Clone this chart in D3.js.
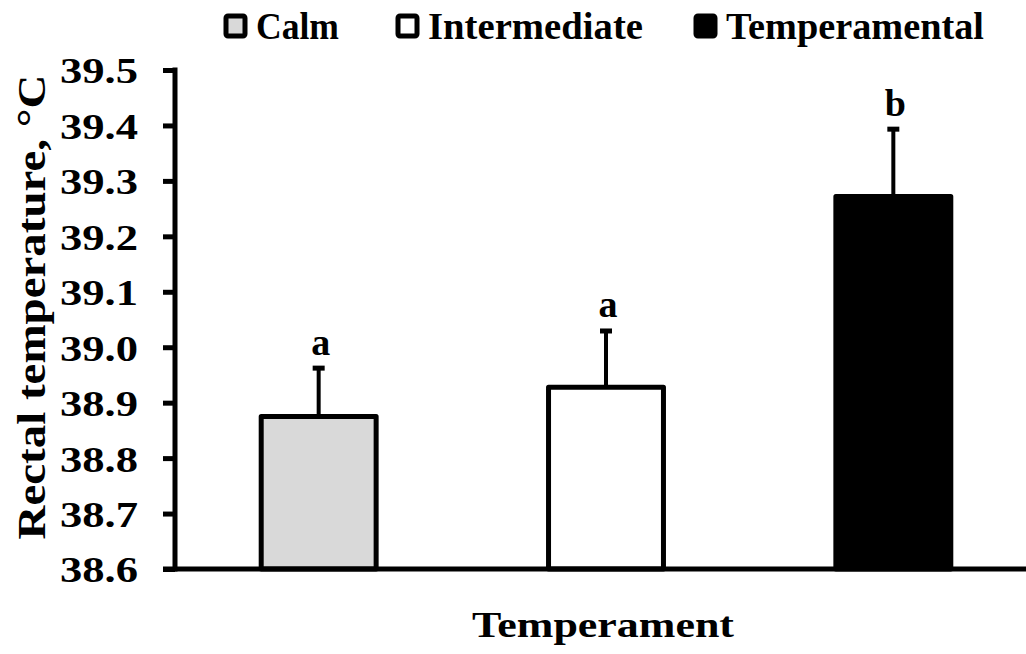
<!DOCTYPE html>
<html>
<head>
<meta charset="utf-8">
<script src="https://cdn.jsdelivr.net/npm/d3@7"></script>
<style>
  body { margin: 0; background: #fff; }
  text { font-family: "Liberation Serif", "Times New Roman", serif; font-weight: bold; fill: #000; }
</style>
</head>
<body>
<svg id="chart" width="1026" height="654"></svg>
<script>
// chart values
const categories = ["Calm", "Intermediate", "Temperamental"];
const means = [38.875, 38.928, 39.272];
const errors = [0.090, 0.104, 0.124];
const letters = ["a", "a", "b"];
const fills = ["#d9d9d9", "#ffffff", "#000000"];
const yTicks = [38.6, 38.7, 38.8, 38.9, 39.0, 39.1, 39.2, 39.3, 39.4, 39.5];

const svg = d3.select("#chart");
const W = 1026, H = 654;
const plotLeft = 175, plotTop = 70, plotBottom = 569;

let x = d3.scaleBand()
    .domain(categories)
    .range([plotLeft, 1037])
    .paddingInner(0.6)
    .paddingOuter(0.3);

let y = d3.scaleLinear()
    .domain([38.6, 39.5])
    .range([plotBottom, plotTop]);

let data = categories.map((c, i) => ({
    cat: c, mean: means[i], err: errors[i], letter: letters[i], fill: fills[i]
}));

// bars
svg.append("g").selectAll("rect")
    .data(data)
    .join("rect")
    .attr("x", d => x(d.cat))
    .attr("y", d => y(d.mean))
    .attr("width", x.bandwidth())
    .attr("height", d => y(38.6) - y(d.mean))
    .attr("fill", d => d.fill)
    .attr("stroke", "#000")
    .attr("stroke-width", 5)
    .attr("stroke-linejoin", "round");

// error bars (upper only)
let eb = svg.append("g");
eb.selectAll("line")
    .data(data)
    .join("line")
    .attr("x1", d => x(d.cat) + x.bandwidth() / 2)
    .attr("x2", d => x(d.cat) + x.bandwidth() / 2)
    .attr("y1", d => y(d.mean))
    .attr("y2", d => y(d.mean + d.err))
    .attr("stroke", "#000")
    .attr("stroke-width", 4);
eb.selectAll("rect")
    .data(data)
    .join("rect")
    .attr("x", d => x(d.cat) + x.bandwidth() / 2 - 6)
    .attr("y", d => y(d.mean + d.err) - 1)
    .attr("width", 12)
    .attr("height", 5)
    .attr("fill", "#000");

// significance letters
svg.append("g").selectAll("text")
    .data(data)
    .join("text")
    .attr("x", d => x(d.cat) + x.bandwidth() / 2 + 2)
    .attr("y", d => y(d.mean + d.err) - 12)
    .attr("text-anchor", "middle")
    .style("font-size", "38px")
    .text(d => d.letter);

// y axis
let yAxis = svg.append("g")
    .attr("transform", `translate(${plotLeft},0)`)
    .call(d3.axisLeft(y).tickValues(yTicks).tickFormat(d3.format(".1f")).tickSize(12).tickPadding(25));
yAxis.select(".domain").remove();
yAxis.selectAll(".tick line").attr("stroke", "#000").attr("stroke-width", 5);
yAxis.selectAll(".tick text")
    .style("font-size", "36px")
    .attr("dy", "0.36em")
    .attr("textLength", 78)
    .attr("lengthAdjust", "spacingAndGlyphs");
yAxis.append("line")
    .attr("x1", 0).attr("x2", 0)
    .attr("y1", plotTop - 2.5).attr("y2", plotBottom + 2.5)
    .attr("stroke", "#000").attr("stroke-width", 5);

// x axis baseline
svg.append("line")
    .attr("x1", plotLeft - 12).attr("x2", W)
    .attr("y1", plotBottom).attr("y2", plotBottom)
    .attr("stroke", "#000").attr("stroke-width", 5);

// axis titles
svg.append("text")
    .attr("x", 603).attr("y", 637)
    .attr("text-anchor", "middle")
    .style("font-size", "36px")
    .attr("textLength", 262)
    .attr("lengthAdjust", "spacingAndGlyphs")
    .text("Temperament");

svg.append("text")
    .attr("transform", "translate(45,307) rotate(-90)")
    .attr("text-anchor", "middle")
    .style("font-size", "41px")
    .attr("textLength", 465)
    .attr("lengthAdjust", "spacingAndGlyphs")
    .text("Rectal temperature, \u00B0C");

// legend
const legendX = [224, 396, 694];
const legendW = [83, 215, 258];
let lg = svg.append("g").selectAll("g")
    .data(data)
    .join("g")
    .attr("transform", (d, i) => `translate(${legendX[i]},0)`);
lg.append("rect")
    .attr("x", 2).attr("y", 16)
    .attr("width", 19).attr("height", 20)
    .attr("rx", 2)
    .attr("fill", d => d.fill)
    .attr("stroke", "#000")
    .attr("stroke-width", 5);
lg.append("text")
    .attr("x", 32).attr("y", 39)
    .style("font-size", "37px")
    .attr("textLength", (d, i) => legendW[i])
    .attr("lengthAdjust", "spacingAndGlyphs")
    .text(d => d.cat);
</script>
</body>
</html>
